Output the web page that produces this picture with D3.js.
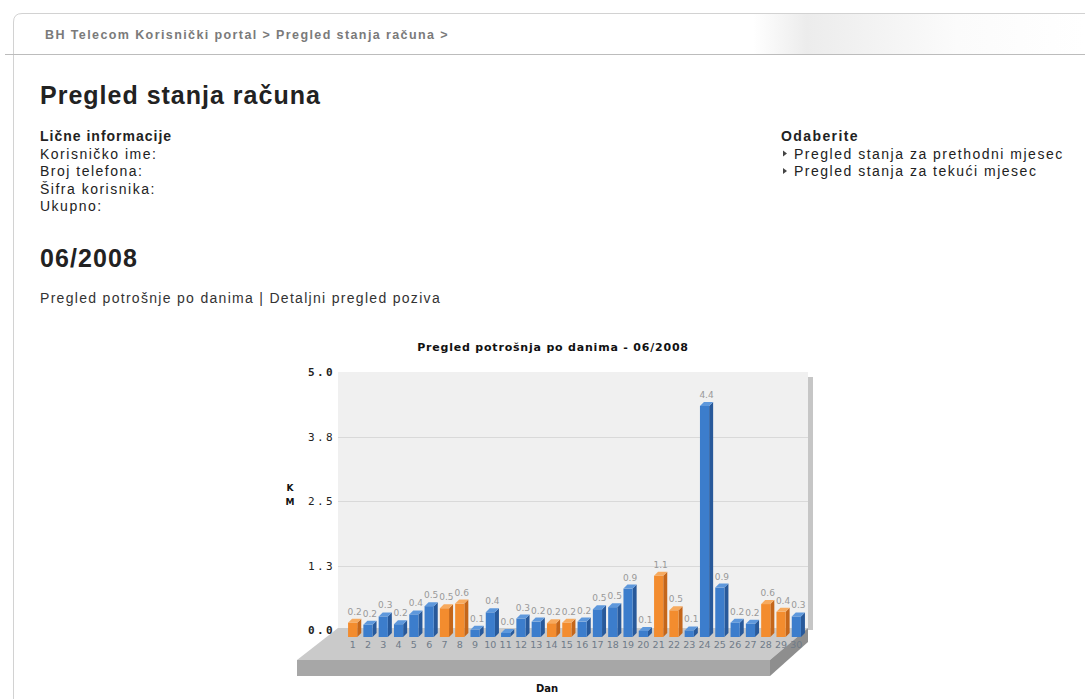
<!DOCTYPE html>
<html lang="bs">
<head>
<meta charset="UTF-8">
<title>Pregled stanja računa</title>
<script src="https://d3js.org/d3.v7.min.js"></script>
<style>
  body { margin: 0; background: #fff; overflow: hidden; }
  svg { display: block; font-family: "Liberation Sans", Arial, sans-serif; }
  .chart text { font-family: "DejaVu Sans", Verdana, sans-serif; }
  .chart .tick { font-family: "DejaVu Sans Mono", monospace; }
</style>
</head>
<body>
<svg id="page" width="1085" height="699"></svg>
<script>
// podaci: potrošnja po danima (KM), juni 2008
const days = [1, 2, 3, 4, 5, 6, 7, 8, 9, 10, 11, 12, 13, 14, 15,
              16, 17, 18, 19, 20, 21, 22, 23, 24, 25, 26, 27, 28, 29, 30];
const values = [0.22, 0.18, 0.34, 0.19, 0.38, 0.54, 0.50, 0.59, 0.08, 0.42,
                0.02, 0.30, 0.24, 0.21, 0.22, 0.24, 0.48, 0.52, 0.88, 0.06,
                1.13, 0.46, 0.07, 4.42, 0.90, 0.22, 0.20, 0.58, 0.43, 0.34];
const weekendDays = [1, 7, 8, 14, 15, 21, 22, 28, 29];
const yTickValues = [0, 1.25, 2.5, 3.75, 5];
const yTickLabels = ["0.0", "1.3", "2.5", "3.8", "5.0"];

const infoLines = ["Korisničko ime:", "Broj telefona:", "Šifra korisnika:", "Ukupno:"];
const menuLinks = ["Pregled stanja za prethodni mjesec", "Pregled stanja za tekući mjesec"];

const svg = d3.select("#page");

// ===== okvir stranice =====
const defs = svg.append("defs");
const grad = defs.append("linearGradient").attr("id", "crumbGrad");
grad.append("stop").attr("offset", "0%").attr("stop-color", "#fff");
grad.append("stop").attr("offset", "69%").attr("stop-color", "#fff");
grad.append("stop").attr("offset", "74%").attr("stop-color", "#ececec");
grad.append("stop").attr("offset", "88%").attr("stop-color", "#fbfbfb");
grad.append("stop").attr("offset", "100%").attr("stop-color", "#fff");

svg.append("rect").attr("x", 14).attr("y", 14).attr("width", 1071).attr("height", 40)
  .attr("fill", "url(#crumbGrad)");
svg.append("path").attr("d", "M13.5,699 V22 Q13.5,13.5 22,13.5 H1085")
  .attr("fill", "none").attr("stroke", "#d2d2d2");
svg.append("line").attr("x1", 5).attr("x2", 1085).attr("y1", 54.5).attr("y2", 54.5)
  .attr("stroke", "#bcbcbc");

svg.append("text").attr("x", 45).attr("y", 39)
  .attr("font-size", 12.5).attr("font-weight", "bold").attr("fill", "#7a7a7a")
  .attr("letter-spacing", 1.4)
  .text("BH Telecom Korisnički portal > Pregled stanja računa >");

svg.append("text").attr("x", 40).attr("y", 104)
  .attr("font-size", 25).attr("font-weight", "bold").attr("fill", "#222")
  .attr("letter-spacing", 1.0).text("Pregled stanja računa");

svg.append("text").attr("x", 40).attr("y", 141)
  .attr("font-size", 14).attr("font-weight", "bold").attr("fill", "#222")
  .attr("letter-spacing", 1.0).text("Lične informacije");

svg.append("g").selectAll("text").data(infoLines).join("text")
  .attr("x", 40).attr("y", (d, i) => 158.5 + i * 17.5)
  .attr("font-size", 14).attr("letter-spacing", 1.5).attr("fill", "#222")
  .text(d => d);

svg.append("text").attr("x", 40).attr("y", 267)
  .attr("font-size", 25).attr("font-weight", "bold").attr("fill", "#222")
  .attr("letter-spacing", 1.1).text("06/2008");

svg.append("text").attr("x", 40).attr("y", 303)
  .attr("font-size", 14).attr("letter-spacing", 1.3).attr("fill", "#333")
  .text("Pregled potrošnje po danima | Detaljni pregled poziva");

svg.append("text").attr("x", 781).attr("y", 141)
  .attr("font-size", 14).attr("font-weight", "bold").attr("fill", "#222")
  .attr("letter-spacing", 1.4).text("Odaberite");

const menu = svg.append("g").selectAll("g").data(menuLinks).join("g")
  .attr("transform", (d, i) => `translate(782,${158.5 + i * 17.5})`);
menu.append("path").attr("d", "M1,-8 L5,-5 L1,-2 Z").attr("fill", "#444");
menu.append("text").attr("x", 12).attr("font-size", 14).attr("letter-spacing", 1.5)
  .attr("fill", "#222").text(d => d);

// ===== grafikon =====
const chart = svg.append("g").attr("class", "chart");

const wallLeft = 338, wallRight = 808;
const y = d3.scaleLinear().domain([0, 5]).range([630, 372]);
const x = d3.scaleBand().domain(days).range([345, 804]).paddingInner(0.4).paddingOuter(0.2);

// zadnji zid
chart.append("rect").attr("x", wallLeft).attr("y", y(5))
  .attr("width", wallRight - wallLeft).attr("height", y(0) - y(5))
  .attr("fill", "#f0f0f0");
chart.append("rect").attr("x", wallRight).attr("y", y(5) + 5)
  .attr("width", 5).attr("height", y(0) - y(5) - 5).attr("fill", "#c6c6c6");

chart.append("g").selectAll("line").data(yTickValues.slice(1, -1)).join("line")
  .attr("x1", wallLeft).attr("x2", wallRight)
  .attr("y1", d => Math.round(y(d)) + 0.5).attr("y2", d => Math.round(y(d)) + 0.5)
  .attr("stroke", "#d9d9d9");

// pod (3D ploča)
const fBackY = y(0) - 2, fFrontY = 660, fBottomY = 676;
const fFrontL = 297, fFrontR = 770;
chart.append("path")
  .attr("d", `M${wallLeft},${fBackY} L${wallRight},${fBackY} L${fFrontR},${fFrontY} L${fFrontL},${fFrontY} Z`)
  .attr("fill", "#cacaca");
chart.append("rect").attr("x", fFrontL).attr("y", fFrontY)
  .attr("width", fFrontR - fFrontL).attr("height", fBottomY - fFrontY).attr("fill", "#a7a7a7");
chart.append("path")
  .attr("d", `M${fFrontR},${fFrontY} L${wallRight},${fBackY} L${wallRight},${fBackY + 14} L${fFrontR},${fBottomY} Z`)
  .attr("fill", "#8e8e8e");

// naslov i ose
chart.append("text").attr("x", 553).attr("y", 351).attr("text-anchor", "middle")
  .attr("font-size", 11).attr("font-weight", "bold").attr("fill", "#111")
  .attr("letter-spacing", 0.8)
  .text("Pregled potrošnja po danima - 06/2008");

chart.append("g").selectAll("text").data(yTickValues).join("text")
  .attr("class", "tick")
  .attr("x", 335).attr("y", d => y(d) + 4).attr("text-anchor", "end")
  .attr("font-size", 11).attr("letter-spacing", 2.4)
  .attr("font-weight", (d, i) => (i === 0 || i === yTickValues.length - 1) ? "bold" : "normal")
  .attr("fill", "#222")
  .text((d, i) => yTickLabels[i]);

chart.append("text").attr("x", 290).attr("y", 491).attr("text-anchor", "middle")
  .attr("font-size", 9).attr("font-weight", "bold").attr("fill", "#111").text("K");
chart.append("text").attr("x", 290).attr("y", 505).attr("text-anchor", "middle")
  .attr("font-size", 9).attr("font-weight", "bold").attr("fill", "#111").text("M");
chart.append("text").attr("x", 547).attr("y", 692).attr("text-anchor", "middle")
  .attr("font-size", 10).attr("font-weight", "bold").attr("fill", "#111").text("Dan");

chart.append("g").selectAll("text").data(days).join("text")
  .attr("x", d => x(d) + x.bandwidth() / 2).attr("y", 647.5).attr("text-anchor", "middle")
  .attr("font-size", 9.5).attr("fill", "#6f7b88").text(d => d);

// stupci
const barData = days.map((d, i) => ({ day: d, value: values[i], weekend: weekendDays.includes(d) }));
const colors = {
  blue:   { front: "#3c7dcc", side: "#28599a", top: "#5e98dc" },
  orange: { front: "#f38c2e", side: "#c4661a", top: "#f7aa5e" }
};
const depth = 4, baseY = 637;

const bars = chart.append("g").selectAll("g").data(barData).join("g");
bars.each(function(d) {
  const g = d3.select(this);
  const c = d.weekend ? colors.orange : colors.blue;
  const xl = x(d.day), xr = x(d.day) + x.bandwidth();
  const top = Math.min(baseY - 1.5, y(d.value) + 4);
  g.append("path")
    .attr("d", `M${xr},${top} L${xr + depth},${top - depth} L${xr + depth},${baseY - depth} L${xr},${baseY} Z`)
    .attr("fill", c.side);
  g.append("rect").attr("x", xl).attr("y", top).attr("width", xr - xl).attr("height", baseY - top)
    .attr("fill", c.front);
  g.append("path")
    .attr("d", `M${xl},${top} L${xl + depth},${top - depth} L${xr + depth},${top - depth} L${xr},${top} Z`)
    .attr("fill", c.top);
});

chart.append("g").selectAll("text").data(barData).join("text")
  .attr("x", d => x(d.day) + x.bandwidth() / 2 + 2)
  .attr("y", d => Math.min(baseY - 1.5, y(d.value) + 4) - depth - 4)
  .attr("text-anchor", "middle").attr("font-size", 9).attr("fill", "#999")
  .text(d => d3.format(".1f")(d.value));
</script>
</body>
</html>
